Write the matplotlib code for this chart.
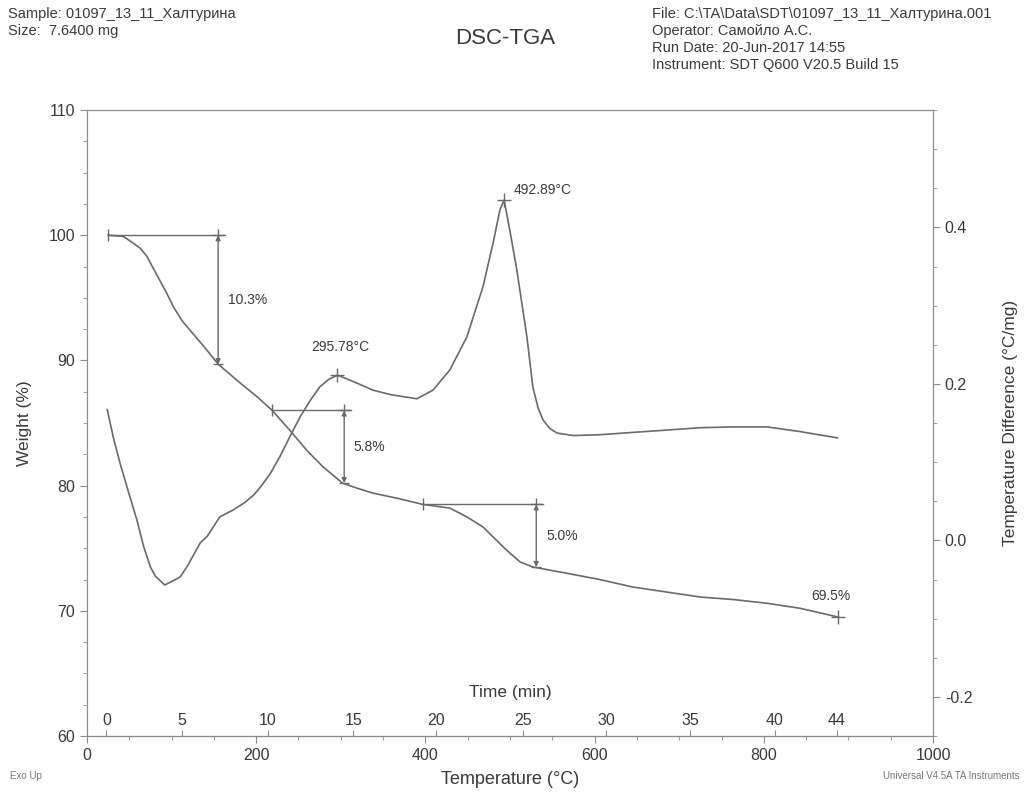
import numpy as np
import matplotlib.pyplot as plt
from matplotlib.ticker import MultipleLocator

plt.rcParams['font.family'] = ['Liberation Sans', 'DejaVu Sans']
plt.rcParams['axes.unicode_minus'] = False

# TGA weight curve (left axis)
tga_temp = [25, 43, 54, 63, 71, 78, 86, 94, 102, 112, 122, 132, 142, 155, 181, 201,
            219, 240, 260, 279, 302, 319, 338, 366, 397, 429, 449, 468, 480, 492,
            500, 512, 527, 567, 606, 645, 685, 725, 764, 804, 843, 888]
tga_weight = [100.0, 99.9, 99.4, 98.95, 98.3, 97.4, 96.4, 95.4, 94.3, 93.2, 92.4,
              91.6, 90.8, 89.7, 88.2, 87.1, 86.0, 84.4, 82.8, 81.5, 80.2, 79.8, 79.4,
              79.0, 78.5, 78.2, 77.5, 76.7, 75.9, 75.1, 74.6, 73.9, 73.5, 73.0, 72.5,
              71.9, 71.5, 71.1, 70.9, 70.6, 70.2, 69.5]

# DSC heat-flow curve (right axis)
dsc_temp = [24, 31, 39, 49, 59, 67, 75, 81, 92, 110, 118, 134, 142, 157, 173, 186,
            197, 205, 217, 228, 240, 252, 264, 275, 286, 296, 306, 319, 338, 360,
            378, 390, 409, 429, 449, 468, 480, 488, 493, 500, 508, 520, 527, 533,
            539, 547, 556, 575, 606, 645, 686, 725, 764, 804, 843, 887]
dsc_diff = [0.167, 0.132, 0.099, 0.062, 0.026, -0.008, -0.034, -0.046, -0.057, -0.047,
            -0.034, -0.003, 0.005, 0.030, 0.039, 0.048, 0.058, 0.068, 0.086, 0.107,
            0.133, 0.158, 0.179, 0.196, 0.206, 0.211, 0.207, 0.201, 0.192, 0.186,
            0.183, 0.181, 0.192, 0.218, 0.260, 0.324, 0.380, 0.422, 0.435, 0.395,
            0.346, 0.260, 0.196, 0.170, 0.154, 0.143, 0.137, 0.134, 0.135, 0.138,
            0.141, 0.144, 0.145, 0.145, 0.139, 0.131]

# weight-loss steps
step_start = [25, 219, 397]
step_end = [155, 304, 531]
step_top = [100.0, 86.0, 78.5]
step_loss = [10.3, 5.8, 5.0]
residue_temp, residue_weight = 888, 69.5

# DSC peaks
peak_temp = [295.78, 492.89]
peak_diff = [0.211, 0.435]

# time axis: tick label -> temperature where it sits
time_ticks = [0, 5, 10, 15, 20, 25, 30, 35, 40, 44]
time_tick_temp = [23, 112, 214, 315, 413, 515, 614, 713, 813, 886]

LINE = '#6a6a6a'
TEXT = '#3a3a3a'
SPINE = '#8c8c8c'


def lin_extrap(x, xp, fp):
    x = np.asarray(x, dtype=float)
    flat = np.atleast_1d(x).astype(float)
    y = np.interp(flat, xp, fp)
    lo = flat < xp[0]
    hi = flat > xp[-1]
    y[lo] = fp[0] + (flat[lo] - xp[0]) * (fp[1] - fp[0]) / (xp[1] - xp[0])
    y[hi] = fp[-1] + (flat[hi] - xp[-1]) * (fp[-1] - fp[-2]) / (xp[-1] - xp[-2])
    return y.reshape(x.shape)


def temp_to_time(t):
    return lin_extrap(t, time_tick_temp, time_ticks)


def time_to_temp(m):
    return lin_extrap(m, time_ticks, time_tick_temp)


def main():
    fig = plt.figure(figsize=(10.27, 7.92), dpi=100)
    ax = fig.add_axes([0.0847, 0.0707, 0.8238, 0.7904])
    ax2 = ax.twinx()

    ax.plot(tga_temp, tga_weight, color=LINE, lw=1.2)
    ax2.plot(dsc_temp, dsc_diff, color=LINE, lw=1.2)

    ax.set_xlim(0, 1000)
    ax.set_ylim(60, 110)
    ax2.set_ylim(-0.25, 0.55)

    ax.xaxis.set_major_locator(MultipleLocator(200))
    ax.xaxis.set_minor_locator(MultipleLocator(50))
    ax.yaxis.set_major_locator(MultipleLocator(10))
    ax.yaxis.set_minor_locator(MultipleLocator(2.5))
    ax2.yaxis.set_major_locator(MultipleLocator(0.2))
    ax2.yaxis.set_minor_locator(MultipleLocator(0.05))
    ax2.yaxis.set_major_formatter(lambda v, p: f'{v:.1f}')

    for a in (ax, ax2):
        for s in a.spines.values():
            s.set_color(SPINE)
        a.tick_params(which='major', length=5, color=SPINE, labelcolor=TEXT, labelsize=11.5)
        a.tick_params(which='minor', length=3, color=SPINE)

    ax.set_xlabel('Temperature (°C)', fontsize=13, color=TEXT, labelpad=6)
    ax.set_ylabel('Weight (%)', fontsize=12.5, color=TEXT, labelpad=12)
    ax2.set_ylabel('Temperature Difference (°C/mg)', fontsize=12.5, color=TEXT, labelpad=22)

    # time axis sitting on the bottom spine, labels inside the plot
    sec = ax.secondary_xaxis(0, functions=(temp_to_time, time_to_temp))
    sec.set_alignment('top')
    sec.set_xticks(time_ticks)
    sec.tick_params(direction='out', length=4, color=SPINE, labelcolor=TEXT,
                    labelsize=11.5, pad=2)
    sec.spines['top'].set_color(SPINE)
    sec.set_xlabel('Time (min)', fontsize=12.5, color=TEXT, labelpad=11)

    # weight-loss brackets
    for t0, t1, top, loss in zip(step_start, step_end, step_top, step_loss):
        bottom = top - loss
        ax.plot([t0, t1 + 8], [top, top], color=LINE, lw=1.0)
        ax.plot([t0], [top], marker='|', ms=9, color=LINE, mew=1.0)
        ax.plot([t1], [top], marker='+', ms=9, color=LINE, mew=1.0)
        ax.plot([t1], [bottom], marker='_', ms=7, color=LINE, mew=1.0)
        ax.annotate('', xy=(t1, bottom), xytext=(t1, top),
                    arrowprops=dict(arrowstyle='<|-|>', color=LINE, lw=1.0,
                                    mutation_scale=7, shrinkA=0, shrinkB=0))
        ax.annotate(f'{loss:.1f}%', xy=(t1, (top + bottom) / 2), xytext=(7, 0),
                    textcoords='offset points', fontsize=10, color=TEXT,
                    ha='left', va='center')

    ax.plot([residue_temp], [residue_weight], marker='+', ms=10, color=LINE, mew=1.0)
    ax.annotate(f'{residue_weight:.1f}%', xy=(residue_temp, residue_weight),
                xytext=(-5, 10), textcoords='offset points', fontsize=10,
                color=TEXT, ha='center', va='bottom')

    # DSC peak labels
    ax2.plot(peak_temp, peak_diff, ls='none', marker='+', ms=10, color=LINE, mew=1.0)
    ax2.annotate(f'{peak_temp[0]:.2f}°C', xy=(peak_temp[0], peak_diff[0]),
                 xytext=(2, 15), textcoords='offset points', fontsize=10,
                 color=TEXT, ha='center', va='bottom')
    ax2.annotate(f'{peak_temp[1]:.2f}°C', xy=(peak_temp[1], peak_diff[1]),
                 xytext=(7, 2), textcoords='offset points', fontsize=10,
                 color=TEXT, ha='left', va='bottom')

    # header block
    W, H = 1027, 792
    hdr = dict(fontsize=10.5, color=TEXT, va='center', ha='left')
    fig.text(8 / W, 1 - 14 / H, 'Sample: 01097_13_11_Халтурина', **hdr)
    fig.text(8 / W, 1 - 31 / H, 'Size:  7.6400 mg', **hdr)
    fig.text(505 / W, 1 - 38 / H, 'DSC-TGA', fontsize=16, color=TEXT,
             ha='center', va='center')
    right_lines = ['File: C:\\TA\\Data\\SDT\\01097_13_11_Халтурина.001',
                   'Operator: Самойло А.С.',
                   'Run Date: 20-Jun-2017 14:55',
                   'Instrument: SDT Q600 V20.5 Build 15']
    for i, line in enumerate(right_lines):
        fig.text(652 / W, 1 - (14 + 17 * i) / H, line, **hdr)

    fig.text(10 / W, 1 - 776 / H, 'Exo Up', fontsize=7, color='#777777',
             ha='left', va='center')
    fig.text(1020 / W, 1 - 776 / H, 'Universal V4.5A TA Instruments', fontsize=7,
             color='#777777', ha='right', va='center')

    fig.savefig('out.png', dpi=100)


if __name__ == '__main__':
    main()
